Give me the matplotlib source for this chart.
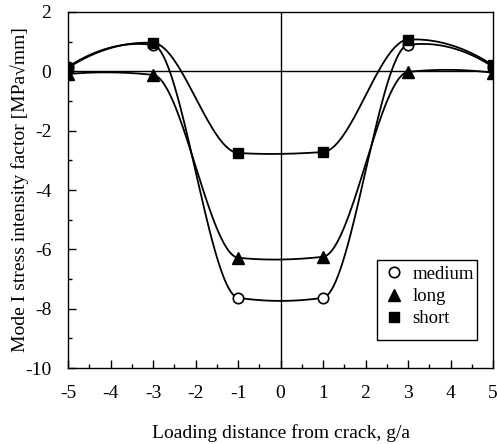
import numpy as np
import matplotlib
matplotlib.use("Agg")
import matplotlib.pyplot as plt
from matplotlib.ticker import MultipleLocator
from matplotlib.patches import Rectangle

plt.rcParams['font.family'] = ['Liberation Serif', 'DejaVu Serif']
plt.rcParams['axes.unicode_minus'] = False

x = [-5, -3, -1, 1, 3, 5]
medium = [0.15, 0.89, -7.63, -7.63, 0.89, 0.15]
long_ = [-0.09, -0.12, -6.28, -6.25, -0.02, -0.05]
short = [0.12, 0.96, -2.75, -2.72, 1.07, 0.20]
xticks = [-5, -4, -3, -2, -1, 0, 1, 2, 3, 4, 5]
yticks = [-10, -8, -6, -4, -2, 0, 2]


def smooth_curve(xs, ys, tension=0.9, n=60):
    """Cardinal (Hermite) spline drawn through the data points."""
    xs = np.asarray(xs, float)
    ys = np.asarray(ys, float)
    m = len(xs)
    t = np.zeros(m)
    for i in range(1, m - 1):
        t[i] = (1 - tension) * (ys[i + 1] - ys[i - 1]) / (xs[i + 1] - xs[i - 1])
    t[0] = 2 * (ys[1] - ys[0]) / (xs[1] - xs[0]) - t[1]
    t[-1] = 2 * (ys[-1] - ys[-2]) / (xs[-1] - xs[-2]) - t[-2]
    XX, YY = [], []
    for i in range(m - 1):
        h = xs[i + 1] - xs[i]
        s = np.linspace(0, 1, n)
        h00 = 2 * s ** 3 - 3 * s ** 2 + 1
        h10 = s ** 3 - 2 * s ** 2 + s
        h01 = -2 * s ** 3 + 3 * s ** 2
        h11 = s ** 3 - s ** 2
        YY.append(h00 * ys[i] + h10 * h * t[i] + h01 * ys[i + 1] + h11 * h * t[i + 1])
        XX.append(xs[i] + s * h)
    return np.concatenate(XX), np.concatenate(YY)


fig = plt.figure(figsize=(4.97, 4.44), dpi=100)
ax = fig.add_axes([0.137, 0.171, 0.855, 0.802])

ax.axhline(0, color='black', lw=1.0, zorder=1)
ax.axvline(0, color='black', lw=1.0, zorder=1)

for ys in (medium, long_, short):
    xx, yy = smooth_curve(x, ys)
    ax.plot(xx, yy, color='black', lw=1.3, zorder=2)

ax.plot(x, medium, ls='none', marker='o', ms=7.5, mfc='white', mec='black', mew=1.2, label='medium', zorder=3)
ax.plot(x, long_, ls='none', marker='^', ms=8, mfc='black', mec='black', label='long', zorder=3)
ax.plot(x, short, ls='none', marker='s', ms=7.5, mfc='black', mec='black', label='short', zorder=3)

ax.set_xlim(-5, 5)
ax.set_ylim(-10, 2)
ax.set_xticks(xticks)
ax.set_yticks(yticks)
ax.xaxis.set_minor_locator(MultipleLocator(0.5))
ax.yaxis.set_minor_locator(MultipleLocator(1))
ax.tick_params(which='both', direction='in', top=False, right=False, labelsize=14)
ax.tick_params(which='major', length=6, width=1)
ax.tick_params(which='minor', length=3, width=1)
ax.tick_params(axis='x', pad=12)
ax.tick_params(axis='y', pad=12)
for s in ax.spines.values():
    s.set_linewidth(1.0)

ax.set_xlabel('Loading distance from crack, g/a', fontsize=14, labelpad=16)
ax.set_ylabel('Mode I stress intensity factor [MPa\u221amm]', fontsize=14, labelpad=-3)

leg = ax.legend(loc='upper left', bbox_to_anchor=(0.727, 0.308), fontsize=13.5,
                frameon=False, handlelength=1.0, handletextpad=0.5, borderpad=0.4,
                labelspacing=0.27, borderaxespad=0)
leg.set_zorder(5)
ax.add_patch(Rectangle((0.727, 0.079), 0.235, 0.224, transform=ax.transAxes,
                       facecolor='white', edgecolor='black', lw=1.0, zorder=4))

fig.savefig('out.png', dpi=100)
